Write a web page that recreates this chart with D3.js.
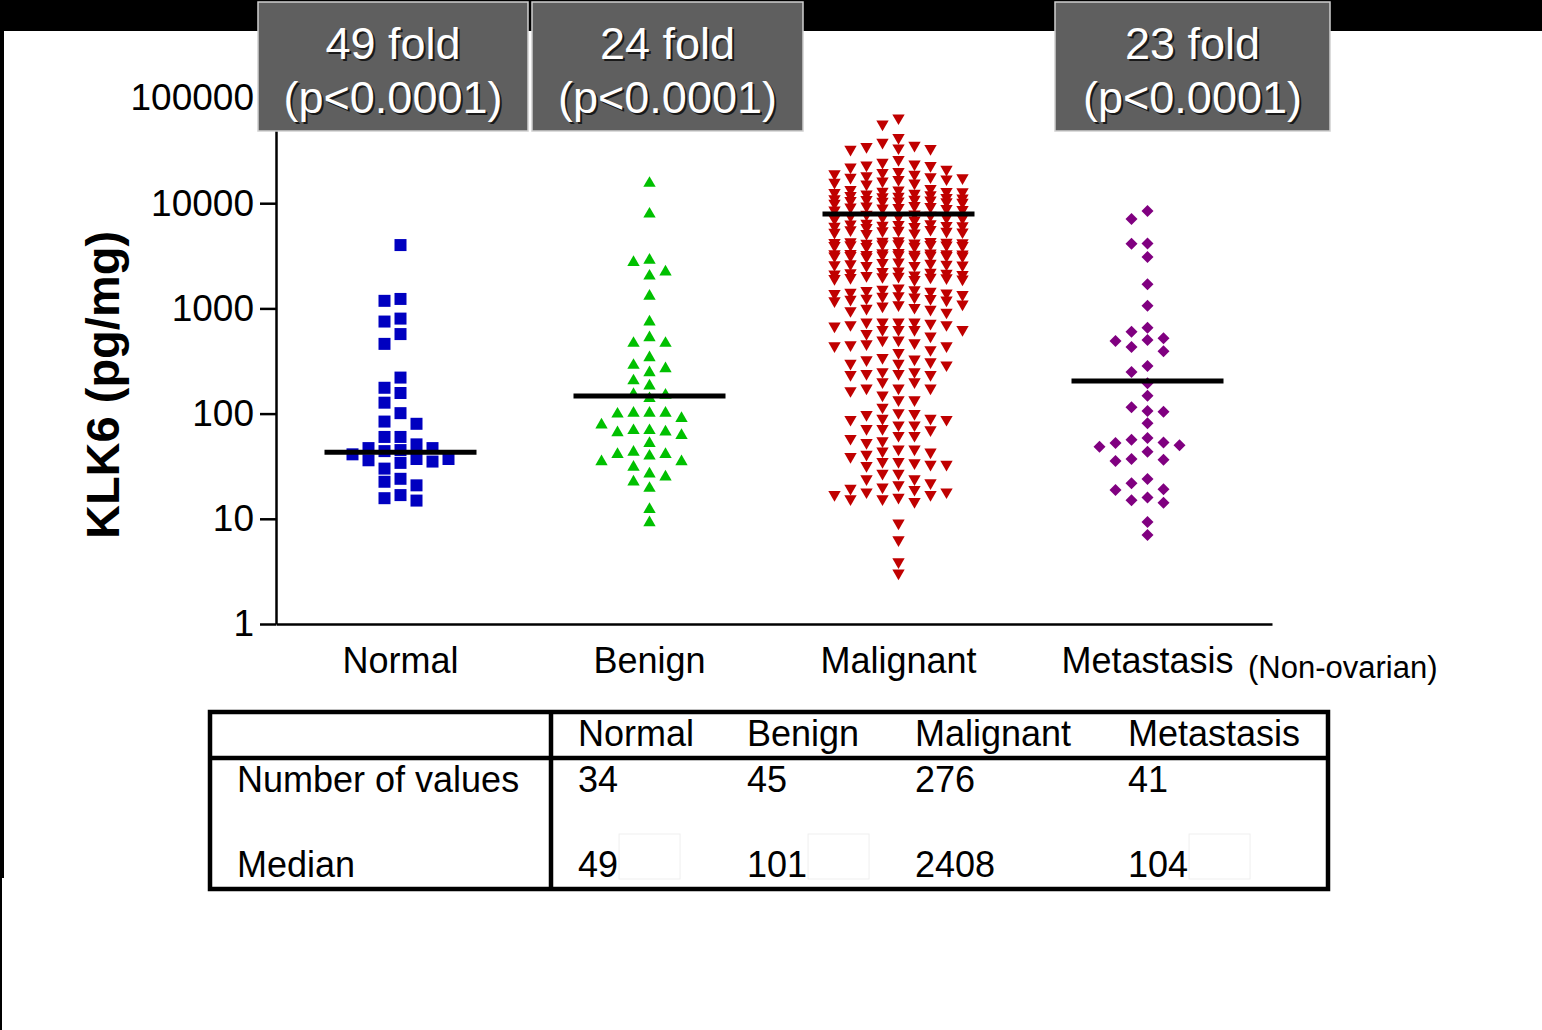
<!DOCTYPE html>
<html><head><meta charset="utf-8">
<script src="https://cdn.jsdelivr.net/npm/d3@7"></script>
<style>
html,body{margin:0;padding:0;background:#fff;}
svg{display:block;font-family:"Liberation Sans",Arial,Helvetica,sans-serif;}
</style></head><body>
<svg id="chart" width="1542" height="1030"></svg>
<script>
// KLK6 concentration (pg/mg) per tissue sample
const categories = ["Normal", "Benign", "Malignant", "Metastasis"];

const normalValues = [4000, 1230, 1180, 800, 750, 570, 460, 220, 176, 157, 127, 101, 84, 80,
  60, 60, 51, 47, 47, 44, 41, 45, 37, 36, 34, 35, 37, 30, 24, 22.5, 20.8, 16.8, 14.9, 15.7];

const benignValues = [15460, 7890, 2740, 2880, 2220, 2030, 1310, 743, 466, 527, 466, 340, 267,
  288, 245, 205, 183, 150, 152, 139, 101, 101, 90, 99, 101, 69, 67, 62, 78, 66, 69, 52, 43, 41,
  35, 39.5, 41, 35, 31, 26.7, 22.4, 25, 19.5, 12.3, 9.2];

const malignantValues = [
  64600, 56600, 42000,
  37900, 33000, 33500, 32500, 34500, 35500,
  24500, 22000, 22800, 21000, 23500, 23000, 26000,
  19000, 18200, 18800, 17800, 17000, 17600, 19500, 20000, 17400, 16200, 16800, 15500, 15800, 15200,
  13500, 13000, 12600, 12800, 12200, 13300, 11800, 11500, 12400, 11200, 11600, 11000, 12900, 12000, 11300, 13800,
  10600, 10400, 10900, 10200, 10700, 10800, 10300, 10500, 10000, 9300, 9100, 9400, 9000, 9200, 8900, 9500, 8700, 8600,
  7900, 7650, 7450, 7300, 7820, 7580, 7380, 7120, 7230, 6920,
  6330, 6080, 6450, 6170, 5990, 6370, 6140, 6020, 6260, 5880,
  5520, 5280, 5630, 5210, 5460, 5330, 5570, 5150, 5390,
  4350, 4200, 4150, 4400, 4050, 4250, 4300, 3950, 4100, 4000, 4180, 3900, 4320, 4080, 3880, 4220, 4020, 3960,
  3300, 3180, 3350, 3250, 3120, 3400, 3220, 3280, 3150, 3320, 3200, 3380, 3100, 3260, 3170, 3310, 3230, 3140,
  2750, 2650, 2600, 2560, 2680, 2720, 2580, 2630, 2550,
  2266, 2200, 2150, 2080, 2000, 1950, 2120, 2050, 1900, 1880, 2180, 1980, 2020, 1920, 2100, 1960, 2240,
  1560, 1500, 1450, 1400, 1350, 1520, 1480, 1300, 1250, 1420, 1380, 1200, 1220, 1280, 1320, 1180, 1240,
  1080, 1000, 950, 1050, 920, 1100, 980, 1020,
  700, 680, 740, 740, 700, 740, 740, 630, 720,
  630, 575, 500, 545, 630, 630,
  500, 460, 440, 405, 380, 440, 450, 470,
  340, 325, 310, 330,
  300, 290, 250, 240, 235, 235, 240, 250, 300,
  200, 175, 165, 150, 175, 175, 200,
  135, 115, 135,
  98, 100, 102,
  90, 88, 78, 72, 70, 72, 78, 88, 90,
  62, 58, 53, 55, 62,
  43, 46, 46,
  41, 35, 34, 27, 33, 24, 32, 33, 35, 24, 39, 27, 44,
  20, 21, 19.5, 22,
  18, 17, 16, 15.5, 14.6, 15.5, 17, 18, 19,
  9.1, 6.3, 3.9, 3.05];

const metastasisValues = [8430, 7080, 4120, 4150, 3080, 1695, 1061, 656, 520, 490, 501, 601, 430,
  391, 283, 248, 194, 148, 104, 115, 106, 81, 50, 43.5, 56.5, 52.6, 53, 58.6, 48.5, 36.5, 35.4,
  37, 21.8, 23.9, 18.8, 19.1, 15, 14.2, 15.9, 9.3, 7];

// horizontal bar drawn across each group
const centerLineValues = [43, 147, 7900, 204];

const yTickValues = [1, 10, 100, 1000, 10000, 100000];

const foldLabels = ["49 fold", "24 fold", "23 fold"];
const pLabels = ["(p<0.0001)", "(p<0.0001)", "(p<0.0001)"];

const tableColumns = ["Normal", "Benign", "Malignant", "Metastasis"];
const tableRowLabels = ["Number of values", "Median"];
const numberOfValues = [34, 45, 276, 41];
const medianValues = [49, 101, 2408, 104];

const groups = [
  {name: "Normal", values: normalValues, shape: "square", color: "#0000c0"},
  {name: "Benign", values: benignValues, shape: "triangleUp", color: "#00c000"},
  {name: "Malignant", values: malignantValues, shape: "triangleDown", color: "#c00000"},
  {name: "Metastasis", values: metastasisValues, shape: "diamond", color: "#800080"}
];

const svg = d3.select("#chart");

// frame strips along the top and left edge
svg.append("rect").attr("x", 0).attr("y", 0).attr("width", 1542).attr("height", 31).attr("fill", "#000");
svg.append("rect").attr("x", 0).attr("y", 31).attr("width", 4).attr("height", 847).attr("fill", "#000");
svg.append("rect").attr("x", 0).attr("y", 878).attr("width", 2).attr("height", 152).attr("fill", "#000");

const x = d3.scaleBand().domain(categories).range([276, 1272]).padding(0);
const y = d3.scaleLog().domain([1, 100000]).range([624, 98]);

// y axis
const yAxis = svg.append("g").attr("transform", "translate(276,0)")
  .call(d3.axisLeft(y).tickValues(yTickValues).tickFormat(d3.format("d"))
    .tickSize(16).tickSizeOuter(0).tickPadding(6));
yAxis.selectAll("path, line").attr("stroke", "#000").attr("stroke-width", 2.5);
yAxis.selectAll("text").attr("font-size", 37).attr("fill", "#000")
  .attr("font-family", "'Liberation Sans', Arial, sans-serif");

// x axis
const xAxis = svg.append("g").attr("transform", "translate(0,624)")
  .call(d3.axisBottom(x).tickSize(0).tickSizeOuter(0).tickPadding(23));
xAxis.select("path").attr("stroke", "#000").attr("stroke-width", 2.5);
xAxis.selectAll("text").attr("font-size", 36).attr("fill", "#000")
  .attr("font-family", "'Liberation Sans', Arial, sans-serif");

svg.append("text").attr("x", 1248).attr("y", 678).attr("font-size", 31)
  .text("(Non-ovarian)");

// y axis title
svg.append("text")
  .attr("transform", "translate(119,385) rotate(-90)")
  .attr("text-anchor", "middle").attr("font-size", 47).attr("font-weight", "bold")
  .text("KLK6 (pg/mg)");

// column scatter: spread points sideways in fixed steps so they don't overlap
function dodge(values, step, gap, maxSlot) {
  const pts = values.map(v => ({v, py: y(v)})).sort((a, b) => a.py - b.py);
  const slots = [0];
  for (let i = 1; i <= maxSlot; i++) slots.push(-i, i);
  for (let i = 0; i < maxSlot; i++) slots.push(-(i + 0.5), i + 0.5);
  const placed = [];
  pts.forEach(p => {
    let chosen = null, best = -1, bestK = 0;
    for (const k of slots) {
      let minD = Infinity;
      for (const q of placed) {
        if (Math.abs(q.k - k) < 1) minD = Math.min(minD, Math.abs(q.py - p.py));
      }
      if (minD >= gap) { chosen = k; break; }
      if (minD > best) { best = minD; bestK = k; }
    }
    p.k = chosen === null ? bestK : chosen;
    placed.push(p);
  });
  return pts.map(p => ({v: p.v, py: p.py, dx: p.k * step}));
}

const symbolFor = {
  square: d3.symbol().type(d3.symbolSquare).size(144)(),
  triangleUp: d3.symbol().type(d3.symbolTriangle).size(66)(),
  triangleDown: d3.symbol().type(d3.symbolTriangle).size(66)(),
  diamond: d3.symbol().type(d3.symbolSquare).size(72)()
};
const rotFor = {square: 0, triangleUp: 0, triangleDown: 180, diamond: 45};

groups.forEach((g, gi) => {
  const cx = x(g.name) + x.bandwidth() / 2;
  const step = 16;
  const gap = g.shape === "triangleDown" ? 10 : 12;
  const pts = dodge(g.values, step, gap, 4);
  svg.append("g").selectAll("path").data(pts).join("path")
    .attr("d", symbolFor[g.shape])
    .attr("transform", d => `translate(${cx + d.dx},${d.py}) rotate(${rotFor[g.shape]})`)
    .attr("fill", g.color);
  svg.append("line")
    .attr("x1", cx - 76).attr("x2", cx + 76)
    .attr("y1", y(centerLineValues[gi])).attr("y2", y(centerLineValues[gi]))
    .attr("stroke", "#000").attr("stroke-width", 5);
});

// fold-change annotation boxes
const boxes = [
  {x: 258, w: 270},
  {x: 532, w: 271},
  {x: 1055, w: 275}
];
boxes.forEach((b, i) => {
  const g = svg.append("g");
  g.append("rect").attr("x", b.x).attr("y", 2).attr("width", b.w).attr("height", 129)
    .attr("fill", "#5f5f5f").attr("stroke", "#cfcfcf").attr("stroke-width", 1.5);
  [[foldLabels[i], 59], [pLabels[i], 113]].forEach(([t, by]) => {
    g.append("text").attr("x", b.x + b.w / 2 + 2).attr("y", by + 2).attr("text-anchor", "middle")
      .attr("font-size", 45).attr("fill", "#1a1a1a").text(t);
    g.append("text").attr("x", b.x + b.w / 2).attr("y", by).attr("text-anchor", "middle")
      .attr("font-size", 45).attr("fill", "#fff").text(t);
  });
});

// summary table
const table = svg.append("g");
table.append("rect").attr("x", 210).attr("y", 712).attr("width", 1118).attr("height", 177)
  .attr("fill", "none").attr("stroke", "#000").attr("stroke-width", 4.5);
table.append("line").attr("x1", 210).attr("x2", 1328).attr("y1", 758).attr("y2", 758)
  .attr("stroke", "#000").attr("stroke-width", 4.5);
table.append("line").attr("x1", 551).attr("x2", 551).attr("y1", 712).attr("y2", 889)
  .attr("stroke", "#000").attr("stroke-width", 4.5);
const colX = [578, 747, 915, 1128];
const t = table.append("g").attr("font-size", 36).attr("fill", "#000");
tableColumns.forEach((c, i) => t.append("text").attr("x", colX[i]).attr("y", 746).text(c));
t.append("text").attr("x", 237).attr("y", 792).text(tableRowLabels[0]);
t.append("text").attr("x", 237).attr("y", 877).text(tableRowLabels[1]);
numberOfValues.forEach((n, i) => t.append("text").attr("x", colX[i]).attr("y", 792).text(n));
medianValues.forEach((m, i) => {
  const txt = t.append("text").attr("x", colX[i]).attr("y", 877).text(m);
  if (i !== 2) {
    const w = txt.node().getComputedTextLength();
    table.append("rect").attr("x", colX[i] + w + 1).attr("y", 834).attr("width", 61).attr("height", 45)
      .attr("fill", "none").attr("stroke", "#efefef").attr("stroke-width", 1);
  }
});
</script>
</body></html>
